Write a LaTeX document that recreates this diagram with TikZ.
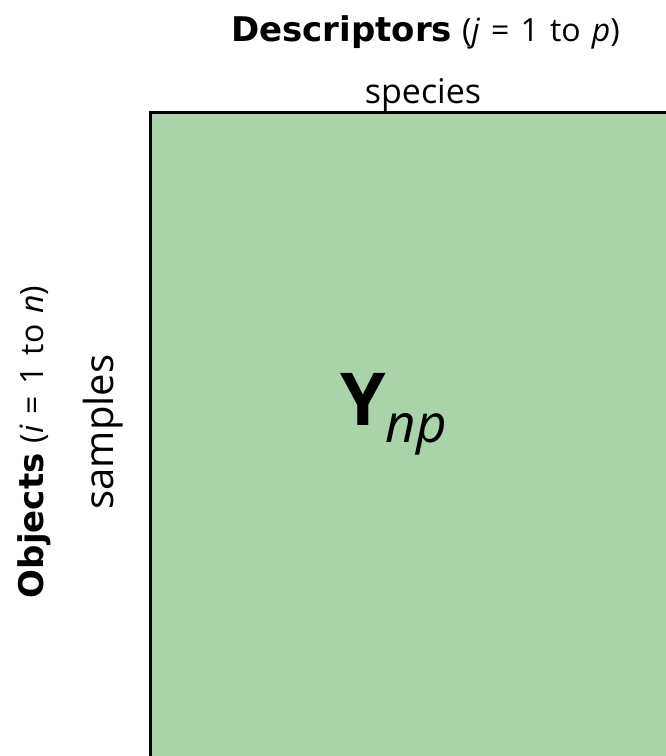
\documentclass[tikz,border=0pt]{standalone}
\usepackage{fontspec}
\setmainfont{Open Sans}[BoldFont={DejaVu Sans Bold}]
\newfontfamily\symfont{Open Sans}
\definecolor{matfill}{RGB}{169,212,170}
% index range such as (j = 1 to p), with roomy spacing
\newcommand{\idxrange}[2]{(\textit{#1}\hspace{0.35em}=\hspace{0.35em}1\hspace{0.35em}to\hspace{0.35em}\textit{#2})}
\begin{document}
\begin{tikzpicture}[x=1pt,y=-1pt,
  lbl/.style={inner sep=0pt,outer sep=0pt,text=black},
  headtxt/.style={font=\fontsize{34}{40}\selectfont},
  paren/.style={font=\fontsize{32}{36}\selectfont}]
\useasboundingbox (0,0) rectangle (665,756);
% data matrix block, running off the right and bottom edges
\fill[matfill] (150.5,112.5) rectangle (680,770);
\draw[line width=3pt] (150.5,770) -- (150.5,112.5) -- (680,112.5);
% column heading
\node[lbl,anchor=base west,headtxt] (desc) at (231,41) {\textbf{Descriptors}};
\node[lbl,anchor=base west,paren] (descidx) at ([xshift=10pt]desc.base east) {\idxrange{j}{p}};
\node[lbl,anchor=base,font=\fontsize{34}{38}\selectfont] (species) at (423,103) {species};
% row heading (reads bottom to top)
\node[lbl,anchor=base west,rotate=90,headtxt] (obj) at (43,598) {\textbf{Objects}};
\node[lbl,anchor=base west,rotate=90,paren] (objidx) at ([yshift=10pt]obj.base east) {\idxrange{i}{n}};
\node[lbl,anchor=base,rotate=90,font=\fontsize{40}{44}\selectfont] (samples) at (113,432) {samples};
% matrix symbol
\node[lbl,anchor=base west] (Y) at (340,425)
  {\symfont\fontsize{73}{80}\selectfont\textbf{Y}\raisebox{-17pt}{\fontsize{53}{58}\selectfont\textit{np}}};
\end{tikzpicture}
\end{document}
